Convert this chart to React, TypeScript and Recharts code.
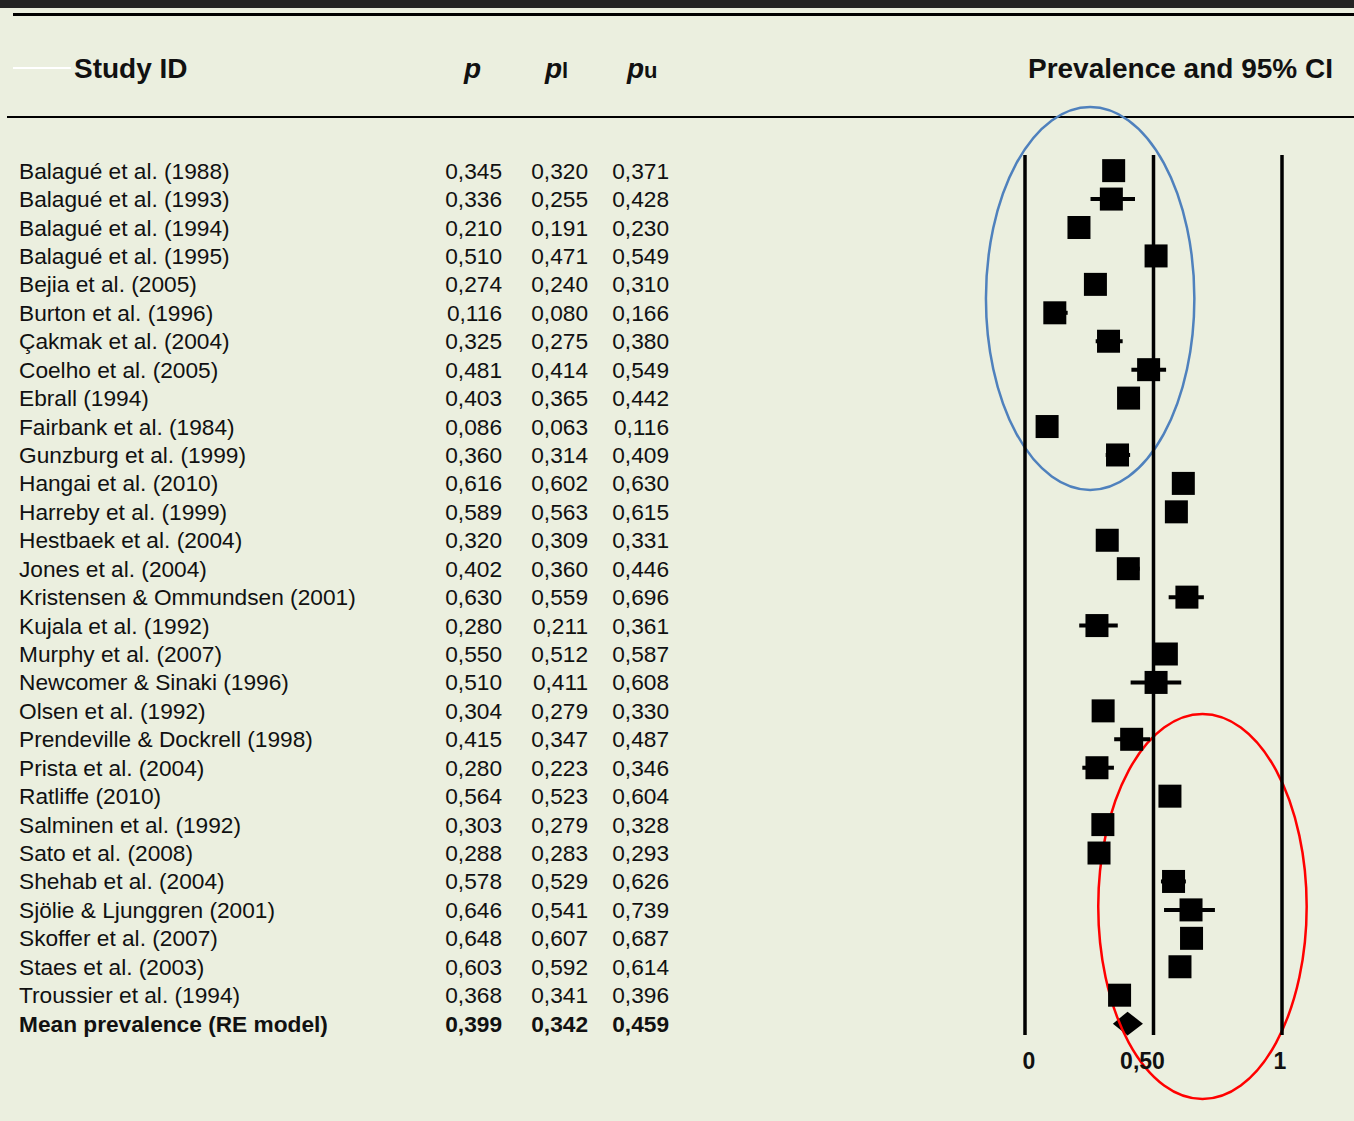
import {
  ScatterChart,
  Scatter,
  XAxis,
  YAxis,
  ErrorBar,
  ReferenceLine,
  ReferenceArea,
} from "recharts";

const studies = [
  "Balagué et al. (1988)",
  "Balagué et al. (1993)",
  "Balagué et al. (1994)",
  "Balagué et al. (1995)",
  "Bejia et al. (2005)",
  "Burton et al. (1996)",
  "Çakmak et al. (2004)",
  "Coelho et al. (2005)",
  "Ebrall (1994)",
  "Fairbank et al. (1984)",
  "Gunzburg et al. (1999)",
  "Hangai et al. (2010)",
  "Harreby et al. (1999)",
  "Hestbaek et al. (2004)",
  "Jones et al. (2004)",
  "Kristensen & Ommundsen (2001)",
  "Kujala et al. (1992)",
  "Murphy et al. (2007)",
  "Newcomer & Sinaki (1996)",
  "Olsen et al. (1992)",
  "Prendeville & Dockrell (1998)",
  "Prista et al. (2004)",
  "Ratliffe (2010)",
  "Salminen et al. (1992)",
  "Sato et al. (2008)",
  "Shehab et al. (2004)",
  "Sjölie & Ljunggren (2001)",
  "Skoffer et al. (2007)",
  "Staes et al. (2003)",
  "Troussier et al. (1994)",
];

const pValues = [
  0.345, 0.336, 0.21, 0.51, 0.274, 0.116, 0.325, 0.481, 0.403, 0.086, 0.36,
  0.616, 0.589, 0.32, 0.402, 0.63, 0.28, 0.55, 0.51, 0.304, 0.415, 0.28,
  0.564, 0.303, 0.288, 0.578, 0.646, 0.648, 0.603, 0.368,
];

const lowerValues = [
  0.32, 0.255, 0.191, 0.471, 0.24, 0.08, 0.275, 0.414, 0.365, 0.063, 0.314,
  0.602, 0.563, 0.309, 0.36, 0.559, 0.211, 0.512, 0.411, 0.279, 0.347, 0.223,
  0.523, 0.279, 0.283, 0.529, 0.541, 0.607, 0.592, 0.341,
];

const upperValues = [
  0.371, 0.428, 0.23, 0.549, 0.31, 0.166, 0.38, 0.549, 0.442, 0.116, 0.409,
  0.63, 0.615, 0.331, 0.446, 0.696, 0.361, 0.587, 0.608, 0.33, 0.487, 0.346,
  0.604, 0.328, 0.293, 0.626, 0.739, 0.687, 0.614, 0.396,
];

const meanLabel = "Mean prevalence (RE model)";
const meanValues = [0.399, 0.342, 0.459];

const xTicks = [0, 0.5, 1];
const xTickLabels = ["0", "0,50", "1"];

const rows = studies.map((study, i) => ({
  row: i,
  study,
  p: pValues[i],
  err: [pValues[i] - lowerValues[i], upperValues[i] - pValues[i]],
}));
const rowTicks = [...studies.map((_, i) => i), studies.length];

const FONT = "'Liberation Sans', Arial, Helvetica, sans-serif";
const BG = "#ebefdf";
const colRight = [502, 588, 669];
// label nudges so the tick texts sit like the original
const xTickDx = [4, -11, -2];

const fmt = (v: number) => v.toFixed(3).replace(".", ",");

function RowTick(props: any) {
  const { y, payload } = props;
  const i = payload.value as number;
  const isMean = i === studies.length;
  const label = isMean ? meanLabel : studies[i];
  const vals = isMean
    ? meanValues
    : [pValues[i], lowerValues[i], upperValues[i]];
  return (
    <g
      fontFamily={FONT}
      fontSize={22.7}
      fill="#111"
      fontWeight={isMean ? 700 : 400}
    >
      <text x={19} y={y} dominantBaseline="central">
        {label}
      </text>
      {vals.map((v, k) => (
        <text
          key={k}
          x={colRight[k]}
          y={y}
          textAnchor="end"
          dominantBaseline="central"
        >
          {fmt(v)}
        </text>
      ))}
    </g>
  );
}

function XTick(props: any) {
  const { x, y, payload } = props;
  const k = xTicks.indexOf(payload.value);
  return (
    <text
      x={x + xTickDx[k]}
      y={y + 18}
      textAnchor="middle"
      dominantBaseline="central"
      fontFamily={FONT}
      fontSize={23}
      fontWeight={700}
      fill="#111"
    >
      {xTickLabels[k]}
    </text>
  );
}

const Square = (props: any) => {
  const { cx, cy } = props;
  return <rect x={cx - 11.5} y={cy - 11.5} width={23} height={23} fill="#000" />;
};

const Diamond = (props: any) => {
  const { x, y, width, height } = props;
  const top = Math.min(y, y + height);
  const h = Math.abs(height);
  const cy = top + h / 2;
  const px =
    x + (width * (meanValues[0] - meanValues[1])) / (meanValues[2] - meanValues[1]);
  return (
    <polygon
      points={`${x},${cy} ${px},${top} ${x + width},${cy} ${px},${top + h}`}
      fill="#000"
    />
  );
};

const makeEllipse = (color: string) => (props: any) => {
  const { x, y, width, height } = props;
  const top = Math.min(y, y + height);
  const h = Math.abs(height);
  return (
    <ellipse
      cx={x + width / 2}
      cy={top + h / 2}
      rx={Math.abs(width) / 2}
      ry={h / 2}
      fill="none"
      stroke={color}
      strokeWidth={2.5}
    />
  );
};

export default function App() {
  return (
    <div
      style={{
        position: "absolute",
        left: 0,
        top: 0,
        width: 1354,
        height: 1121,
        background: BG,
        overflow: "hidden",
        fontFamily: FONT,
        color: "#111",
      }}
    >
      <div style={{ position: "absolute", left: 0, top: 0, width: 1354, height: 8, background: "#242424" }} />
      <div style={{ position: "absolute", left: 13, top: 13, width: 1341, height: 3, background: "#000" }} />
      <div style={{ position: "absolute", left: 13, top: 67, width: 58, height: 2, background: "#fff" }} />
      <div style={{ position: "absolute", left: 7, top: 116, width: 1347, height: 2, background: "#000" }} />
      <div style={{ position: "absolute", left: 74, top: 52, fontSize: 28, fontWeight: 700, lineHeight: "34px" }}>
        Study ID
      </div>
      <div style={{ position: "absolute", left: 464, top: 52, fontSize: 28, fontWeight: 700, fontStyle: "italic", lineHeight: "34px" }}>
        p
      </div>
      <div style={{ position: "absolute", left: 545, top: 52, fontSize: 28, fontWeight: 700, lineHeight: "34px" }}>
        <i>p</i>
        <span style={{ fontSize: 22 }}>l</span>
      </div>
      <div style={{ position: "absolute", left: 627, top: 52, fontSize: 28, fontWeight: 700, lineHeight: "34px" }}>
        <i>p</i>
        <span style={{ fontSize: 22 }}>u</span>
      </div>
      <div style={{ position: "absolute", right: 21, top: 52, fontSize: 28, fontWeight: 700, lineHeight: "34px" }}>
        Prevalence and 95% CI
      </div>
      <div style={{ position: "absolute", left: 0, top: 0 }}>
        <ScatterChart
          width={1354}
          height={1121}
          margin={{ top: 155, right: 72, bottom: 46, left: 0 }}
        >
          <XAxis
            dataKey="p"
            type="number"
            domain={[0, 1]}
            ticks={xTicks}
            axisLine={false}
            tickLine={false}
            height={40}
            tick={XTick}
          />
          <YAxis
            dataKey="row"
            type="number"
            domain={[-0.55, 30.4]}
            reversed
            ticks={rowTicks}
            interval={0}
            width={1025}
            axisLine={false}
            tickLine={false}
            tick={RowTick}
          />
          {xTicks.map((t) => (
            <ReferenceLine key={t} x={t} stroke="#000" strokeWidth={3.5} />
          ))}
          <Scatter data={rows} shape={Square} isAnimationActive={false}>
            <ErrorBar
              dataKey="err"
              direction="x"
              width={0}
              stroke="#000"
              strokeWidth={4}
              isAnimationActive={false}
            />
          </Scatter>
          <ReferenceArea
            x1={meanValues[1]}
            x2={meanValues[2]}
            y1={studies.length - 0.42}
            y2={studies.length + 0.42}
            ifOverflow="visible"
            shape={Diamond}
          />
          <ReferenceArea
            x1={-0.152}
            x2={0.659}
            y1={-2.24}
            y2={11.23}
            ifOverflow="visible"
            shape={makeEllipse("#4f81bd")}
          />
          <ReferenceArea
            x1={0.285}
            x2={1.096}
            y1={19.11}
            y2={32.65}
            ifOverflow="visible"
            shape={makeEllipse("#ff0000")}
          />
        </ScatterChart>
      </div>
    </div>
  );
}
